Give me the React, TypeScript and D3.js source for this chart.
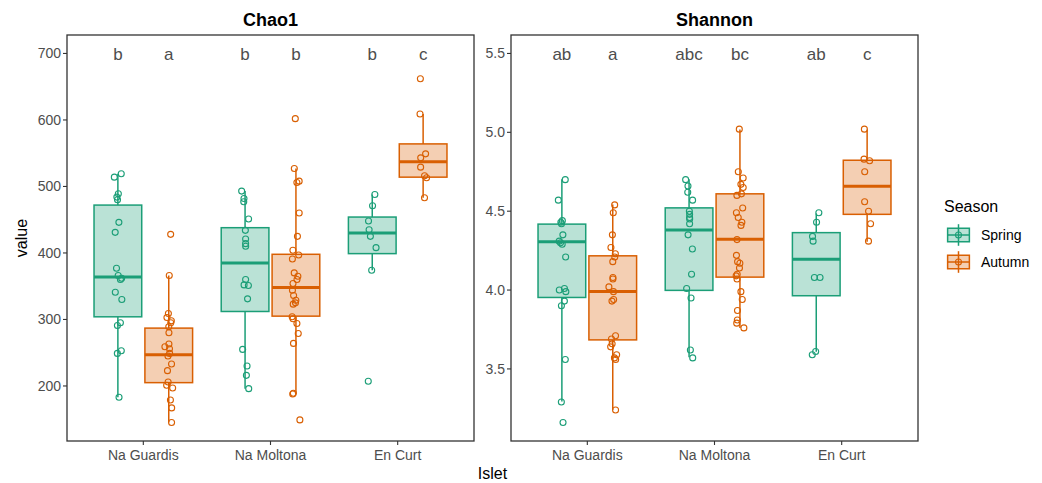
import React from 'react';
import * as d3 from 'd3';

const islets = ['Na Guardis', 'Na Moltona', 'En Curt'];
const seasons = ['Spring', 'Autumn'];
const seasonColors = ['#1B9E77', '#D95F02'];

// Chao1 samples per islet
const chaoSpring = [
  [519, 514, 489, 484, 480, 446, 431, 377, 366, 362, 360, 341, 330, 295, 291, 253, 249, 183],
  [493, 482, 477, 451, 434, 421, 414, 410, 360, 352, 351, 331, 255, 230, 216, 196],
  [488, 471, 448, 435, 425, 408, 374, 207],
];
const chaoAutumn = [
  [428, 366, 309, 303, 298, 295, 289, 280, 263, 259, 256, 249, 245, 233, 223, 206, 201, 197, 179, 167, 145],
  [602, 527, 508, 506, 460, 425, 404, 397, 391, 370, 365, 360, 354, 344, 336, 329, 325, 323, 304, 301, 294, 279, 264, 189, 188, 149],
  [662, 609, 549, 543, 529, 516, 513, 483],
];
// box stats: lower whisker, q1, median, q3, upper whisker
const chaoSpringBox = [
  [183, 304, 364, 472, 519],
  [196, 312, 385, 438, 493],
  [374, 399, 430, 454, 488],
];
const chaoAutumnBox = [
  [145, 205, 247, 287, 366],
  [188, 305, 348, 398, 527],
  [483, 514, 537, 564, 609],
];
const chaoLetters = [['b', 'a'], ['b', 'b'], ['b', 'c']];
const chaoLetterY = 700;
const chaoTicks = [200, 300, 400, 500, 600, 700];

// Shannon samples per islet
const shanSpring = [
  [4.70, 4.57, 4.44, 4.43, 4.42, 4.35, 4.31, 4.30, 4.29, 4.21, 4.01, 4.00, 3.99, 3.93, 3.90, 3.56, 3.29, 3.16],
  [4.70, 4.66, 4.62, 4.57, 4.50, 4.48, 4.46, 4.45, 4.42, 4.35, 4.26, 4.10, 4.01, 3.95, 3.62, 3.57],
  [4.49, 4.43, 4.34, 4.31, 4.08, 4.08, 3.61, 3.59],
];
const shanAutumn = [
  [4.54, 4.49, 4.35, 4.27, 4.23, 4.21, 4.18, 4.08, 4.07, 4.02, 3.99, 3.94, 3.93, 3.71, 3.69, 3.66, 3.64, 3.59, 3.57, 3.56, 3.24],
  [5.02, 4.75, 4.71, 4.67, 4.65, 4.61, 4.60, 4.52, 4.49, 4.46, 4.43, 4.41, 4.32, 4.22, 4.18, 4.17, 4.14, 4.10, 4.09, 4.07, 3.99, 3.94, 3.87, 3.81, 3.79, 3.76],
  [5.02, 4.83, 4.82, 4.75, 4.56, 4.50, 4.42, 4.31],
];
const shanSpringBox = [
  [3.293, 3.953, 4.307, 4.418, 4.703],
  [3.574, 3.998, 4.381, 4.521, 4.703],
  [3.609, 3.964, 4.196, 4.364, 4.486],
];
const shanAutumnBox = [
  [3.24, 3.684, 3.991, 4.217, 4.543],
  [3.76, 4.082, 4.322, 4.61, 5.018],
  [4.307, 4.48, 4.658, 4.823, 5.018],
];
const shanLetters = [['ab', 'a'], ['abc', 'bc'], ['ab', 'c']];
const shanLetterY = 5.5;
const shanTicks = [3.5, 4.0, 4.5, 5.0, 5.5];

const FONT = 'Liberation Sans, Arial, Helvetica, sans-serif';
const TOP = 35;
const BOTTOM = 441;

// small fixed horizontal jitter so points don't stack
const jitter = (i, k) => {
  const s = Math.sin((i + 1) * 12.9898 + k * 78.233) * 43758.5453;
  return (s - Math.floor(s) - 0.5) * 8;
};

const Panel = ({ x0, x1, title, spring, autumn, springBox, autumnBox, letters, letterY, ticks, fmt }) => {
  const all = [...spring.flat(), ...autumn.flat(), letterY];
  const [lo, hi] = d3.extent(all);
  const pad = (hi - lo) * 0.05;
  const y = d3.scaleLinear().domain([lo - pad, hi + pad]).range([BOTTOM, TOP]);
  const x = d3.scalePoint().domain(islets).range([x0, x1]).padding(0.6);
  const step = x.step();
  const boxW = step * 0.375;
  const groups = [spring, autumn];
  const boxes = [springBox, autumnBox];

  return (
    <g>
      <text x={(x0 + x1) / 2} y={26} textAnchor='middle' fontSize='18' fontWeight='bold' fill='black'>
        {title}
      </text>
      {islets.map((isl, i) =>
        seasons.map((s, j) => {
          const cx = x(isl) + (j === 0 ? -0.2 : 0.2) * step;
          const [wl, q1, md, q3, wh] = boxes[j][i];
          const col = seasonColors[j];
          return (
            <g key={isl + s}>
              <line x1={cx} x2={cx} y1={y(wh)} y2={y(q3)} stroke={col} strokeWidth='1.5' />
              <line x1={cx} x2={cx} y1={y(q1)} y2={y(wl)} stroke={col} strokeWidth='1.5' />
              <rect
                x={cx - boxW / 2}
                y={y(q3)}
                width={boxW}
                height={y(q1) - y(q3)}
                fill={col}
                fillOpacity='0.3'
                stroke={col}
                strokeWidth='1.5'
              />
              <line x1={cx - boxW / 2} x2={cx + boxW / 2} y1={y(md)} y2={y(md)} stroke={col} strokeWidth='3' />
              {groups[j][i].map((v, k) => (
                <circle
                  key={k}
                  cx={cx + jitter(k, i * 2 + j)}
                  cy={y(v)}
                  r='3'
                  fill='none'
                  stroke={col}
                  strokeWidth='1.1'
                />
              ))}
              <text x={cx} y={y(letterY)} dy='0.36em' textAnchor='middle' fontSize='17' fill='#4D4D4D'>
                {letters[i][j]}
              </text>
            </g>
          );
        })
      )}
      <rect x={x0} y={TOP} width={x1 - x0} height={BOTTOM - TOP} fill='none' stroke='#333333' strokeWidth='1.3' />
      {ticks.map((t) => (
        <g key={t}>
          <line x1={x0 - 4} x2={x0} y1={y(t)} y2={y(t)} stroke='#333333' strokeWidth='1.1' />
          <text x={x0 - 6} y={y(t)} dy='0.35em' textAnchor='end' fontSize='14' fill='#4D4D4D'>
            {fmt(t)}
          </text>
        </g>
      ))}
      {islets.map((isl) => (
        <g key={isl}>
          <line x1={x(isl)} x2={x(isl)} y1={BOTTOM} y2={BOTTOM + 4} stroke='#333333' strokeWidth='1.1' />
          <text x={x(isl)} y={459.5} textAnchor='middle' fontSize='14' fill='#4D4D4D'>
            {isl}
          </text>
        </g>
      ))}
    </g>
  );
};

const LegendKey = ({ cy, color, label }) => {
  const cx = 958.5;
  const h = 27;
  const w = 29;
  return (
    <g>
      <line x1={cx} x2={cx} y1={cy - h * 0.4} y2={cy + h * 0.4} stroke={color} strokeWidth='1.5' />
      <rect
        x={cx - w * 0.375}
        y={cy - h * 0.25}
        width={w * 0.75}
        height={h * 0.5}
        fill={color}
        fillOpacity='0.3'
        stroke={color}
        strokeWidth='1.5'
      />
      <line x1={cx - w * 0.375} x2={cx + w * 0.375} y1={cy} y2={cy} stroke={color} strokeWidth='1.5' />
      <circle cx={cx} cy={cy} r='3' fill='none' stroke={color} strokeWidth='1.1' />
      <text x={981} y={cy} dy='0.35em' fontSize='14' fill='black'>
        {label}
      </text>
    </g>
  );
};

export default function App() {
  return (
    <svg
      width={1042}
      height={483}
      style={{ position: 'absolute', left: 0, top: 0, background: 'white' }}
      fontFamily={FONT}
    >
      <rect width={1042} height={483} fill='white' />
      <Panel
        x0={67}
        x1={474}
        title='Chao1'
        spring={chaoSpring}
        autumn={chaoAutumn}
        springBox={chaoSpringBox}
        autumnBox={chaoAutumnBox}
        letters={chaoLetters}
        letterY={chaoLetterY}
        ticks={chaoTicks}
        fmt={d3.format('d')}
      />
      <Panel
        x0={511}
        x1={918}
        title='Shannon'
        spring={shanSpring}
        autumn={shanAutumn}
        springBox={shanSpringBox}
        autumnBox={shanAutumnBox}
        letters={shanLetters}
        letterY={shanLetterY}
        ticks={shanTicks}
        fmt={d3.format('.1f')}
      />
      <text transform='translate(27,238) rotate(-90)' textAnchor='middle' fontSize='16' fill='black'>
        value
      </text>
      <text x={492.5} y={479} textAnchor='middle' fontSize='16' fill='black'>
        Islet
      </text>
      <text x={944} y={212} fontSize='16' fill='black'>
        Season
      </text>
      {seasons.map((s, j) => (
        <LegendKey key={s} cy={235 + j * 27} color={seasonColors[j]} label={s} />
      ))}
    </svg>
  );
}
